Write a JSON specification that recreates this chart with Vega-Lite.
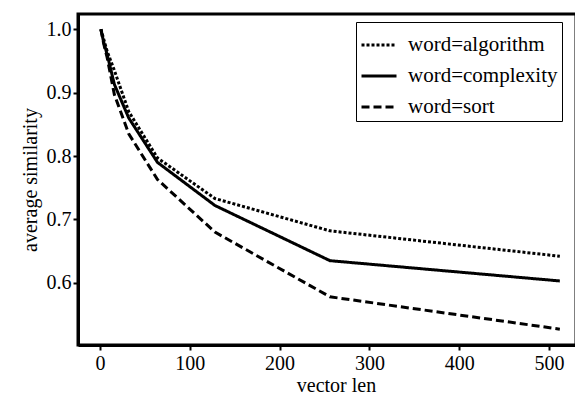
{
  "$schema": "https://vega.github.io/schema/vega-lite/v6.json",
  "autosize": "none",
  "padding": {"left": 78, "top": 14, "right": 0, "bottom": 49},
  "width": 498,
  "height": 331,
  "background": "white",
  "config": {
    "view": {"stroke": "black", "strokeWidth": 3},
    "font": "Liberation Serif",
    "axis": {
      "domainColor": "black", "domainWidth": 3, "tickColor": "black", "tickWidth": 2, "tickSize": 5,
      "grid": false, "labelFont": "Liberation Serif", "titleFont": "Liberation Serif",
      "labelColor": "black", "titleColor": "black", "labelFontSize": 20, "titleFontSize": 20, "titleFontWeight": "normal"
    },
    "legend": {"labelFont": "Liberation Serif", "labelFontSize": 21, "labelLimit": 300}
  },
  "data": {"values": [
    {"len": 1, "word": "algorithm", "sim": 1.0},
    {"len": 4, "word": "algorithm", "sim": 0.985},
    {"len": 8, "word": "algorithm", "sim": 0.965},
    {"len": 16, "word": "algorithm", "sim": 0.935},
    {"len": 32, "word": "algorithm", "sim": 0.87},
    {"len": 64, "word": "algorithm", "sim": 0.797},
    {"len": 128, "word": "algorithm", "sim": 0.733},
    {"len": 256, "word": "algorithm", "sim": 0.682},
    {"len": 512, "word": "algorithm", "sim": 0.642},
    {"len": 1, "word": "complexity", "sim": 1.0},
    {"len": 4, "word": "complexity", "sim": 0.98},
    {"len": 8, "word": "complexity", "sim": 0.96},
    {"len": 16, "word": "complexity", "sim": 0.913},
    {"len": 32, "word": "complexity", "sim": 0.86},
    {"len": 64, "word": "complexity", "sim": 0.79},
    {"len": 128, "word": "complexity", "sim": 0.722},
    {"len": 256, "word": "complexity", "sim": 0.635},
    {"len": 512, "word": "complexity", "sim": 0.603},
    {"len": 1, "word": "sort", "sim": 1.0},
    {"len": 4, "word": "sort", "sim": 0.978},
    {"len": 8, "word": "sort", "sim": 0.955},
    {"len": 16, "word": "sort", "sim": 0.897},
    {"len": 32, "word": "sort", "sim": 0.835},
    {"len": 64, "word": "sort", "sim": 0.763},
    {"len": 128, "word": "sort", "sim": 0.68},
    {"len": 256, "word": "sort", "sim": 0.578},
    {"len": 512, "word": "sort", "sim": 0.527}
  ]},
  "mark": {"type": "line", "color": "black", "strokeWidth": 3, "strokeCap": "butt"},
  "encoding": {
    "x": {"field": "len", "type": "quantitative", "scale": {"domain": [-24.5, 530], "nice": false, "zero": false},
          "axis": {"orient": "bottom", "values": [0, 100, 200, 300, 400, 500], "title": "vector  len", "labelPadding": 3, "titlePadding": 2, "titleX": 258}},
    "y": {"field": "sim", "type": "quantitative", "scale": {"domain": [0.502, 1.024], "nice": false, "zero": false},
          "axis": {"values": [0.6, 0.7, 0.8, 0.9, 1.0], "format": ".1f", "title": "average similarity", "labelPadding": 2, "titlePadding": 6}},
    "strokeDash": {"field": "word", "type": "nominal",
      "scale": {"domain": ["algorithm", "complexity", "sort"], "range": [[3, 2], [1, 0], [8, 4]]},
      "legend": {"orient": "none", "legendX": 278, "legendY": 8, "title": null, "labelExpr": "'word=' + datum.label",
                 "strokeColor": "black", "padding": 4, "fillColor": "white",
                 "symbolType": "stroke", "symbolSize": 1225, "symbolStrokeWidth": 3, "symbolStrokeColor": "black",
                 "labelColor": "black", "labelOffset": 10, "rowPadding": 2}}
  }
}
